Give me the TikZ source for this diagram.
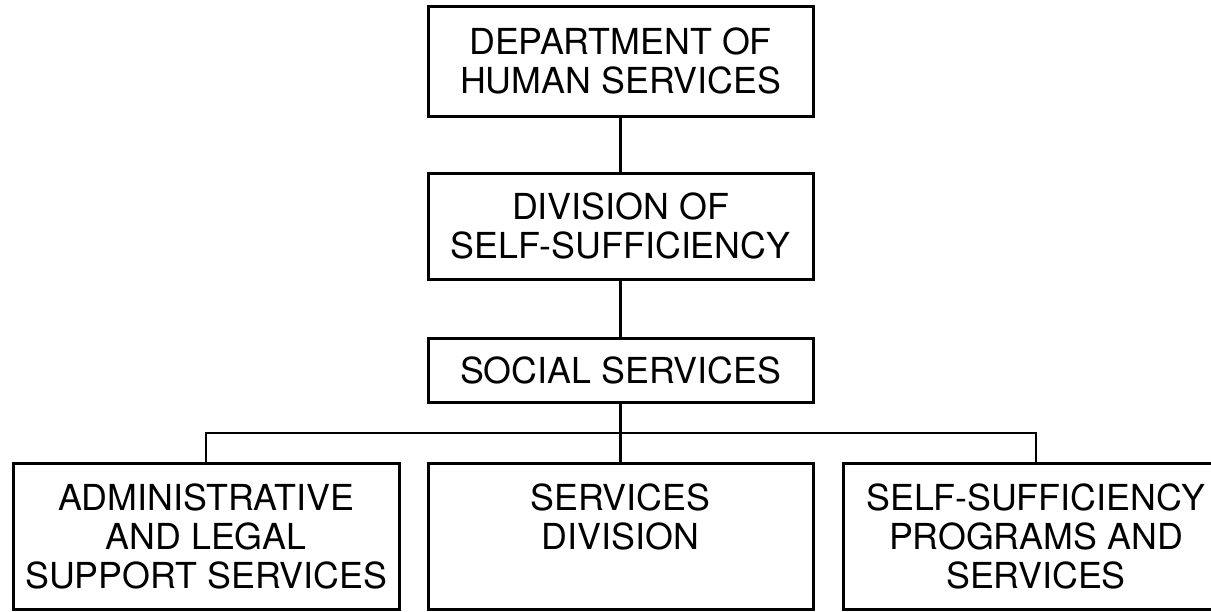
\documentclass[tikz,border=0pt]{standalone}
\usepackage{fontspec}
\setmainfont{TeX Gyre Heros}
\usetikzlibrary{calc}

\begin{document}
\begin{tikzpicture}[x=0.5pt, y=-0.5pt,
  orgbox/.style={draw, line width=1.5pt, align=center, inner sep=0pt,
    minimum width=192.5pt, font=\fontsize{17.9}{19.5}\selectfont},
  link/.style={line width=1.4pt}]
  \clip (0,0) rectangle (1211,611);
  % Upper levels
  \node[orgbox, minimum height=55pt] (dhs) at (620.5,61)
        {DEPARTMENT OF\\HUMAN SERVICES};
  \node[orgbox, minimum height=53pt] (dss) at (620.5,226)
        {DIVISION OF\\SELF-SUFFICIENCY};
  \node[orgbox, minimum height=32pt] (soc) at (620.5,370)
        {SOCIAL SERVICES};
  % Lower level
  \node[orgbox, minimum width=193pt, minimum height=73pt] (adm) at (206,536)
        {ADMINISTRATIVE\\AND LEGAL\\SUPPORT SERVICES};
  \node[orgbox, minimum height=73pt] (svc) at (620.5,536)
        {SERVICES\\DIVISION\\\mbox{}};
  \node[orgbox, minimum width=193pt, minimum height=73pt] (ssp) at (1036,536)
        {SELF-SUFFICIENCY\\PROGRAMS AND\\SERVICES};
  % Lines
  \coordinate (bus) at (620.5,433);
  \draw[link] (dhs) -- (dss);
  \draw[link] (dss) -- (soc);
  \draw[link] (soc) -- (svc);
  \draw[link] (adm.north) |- (bus) -| (ssp.north);
\end{tikzpicture}
\end{document}
